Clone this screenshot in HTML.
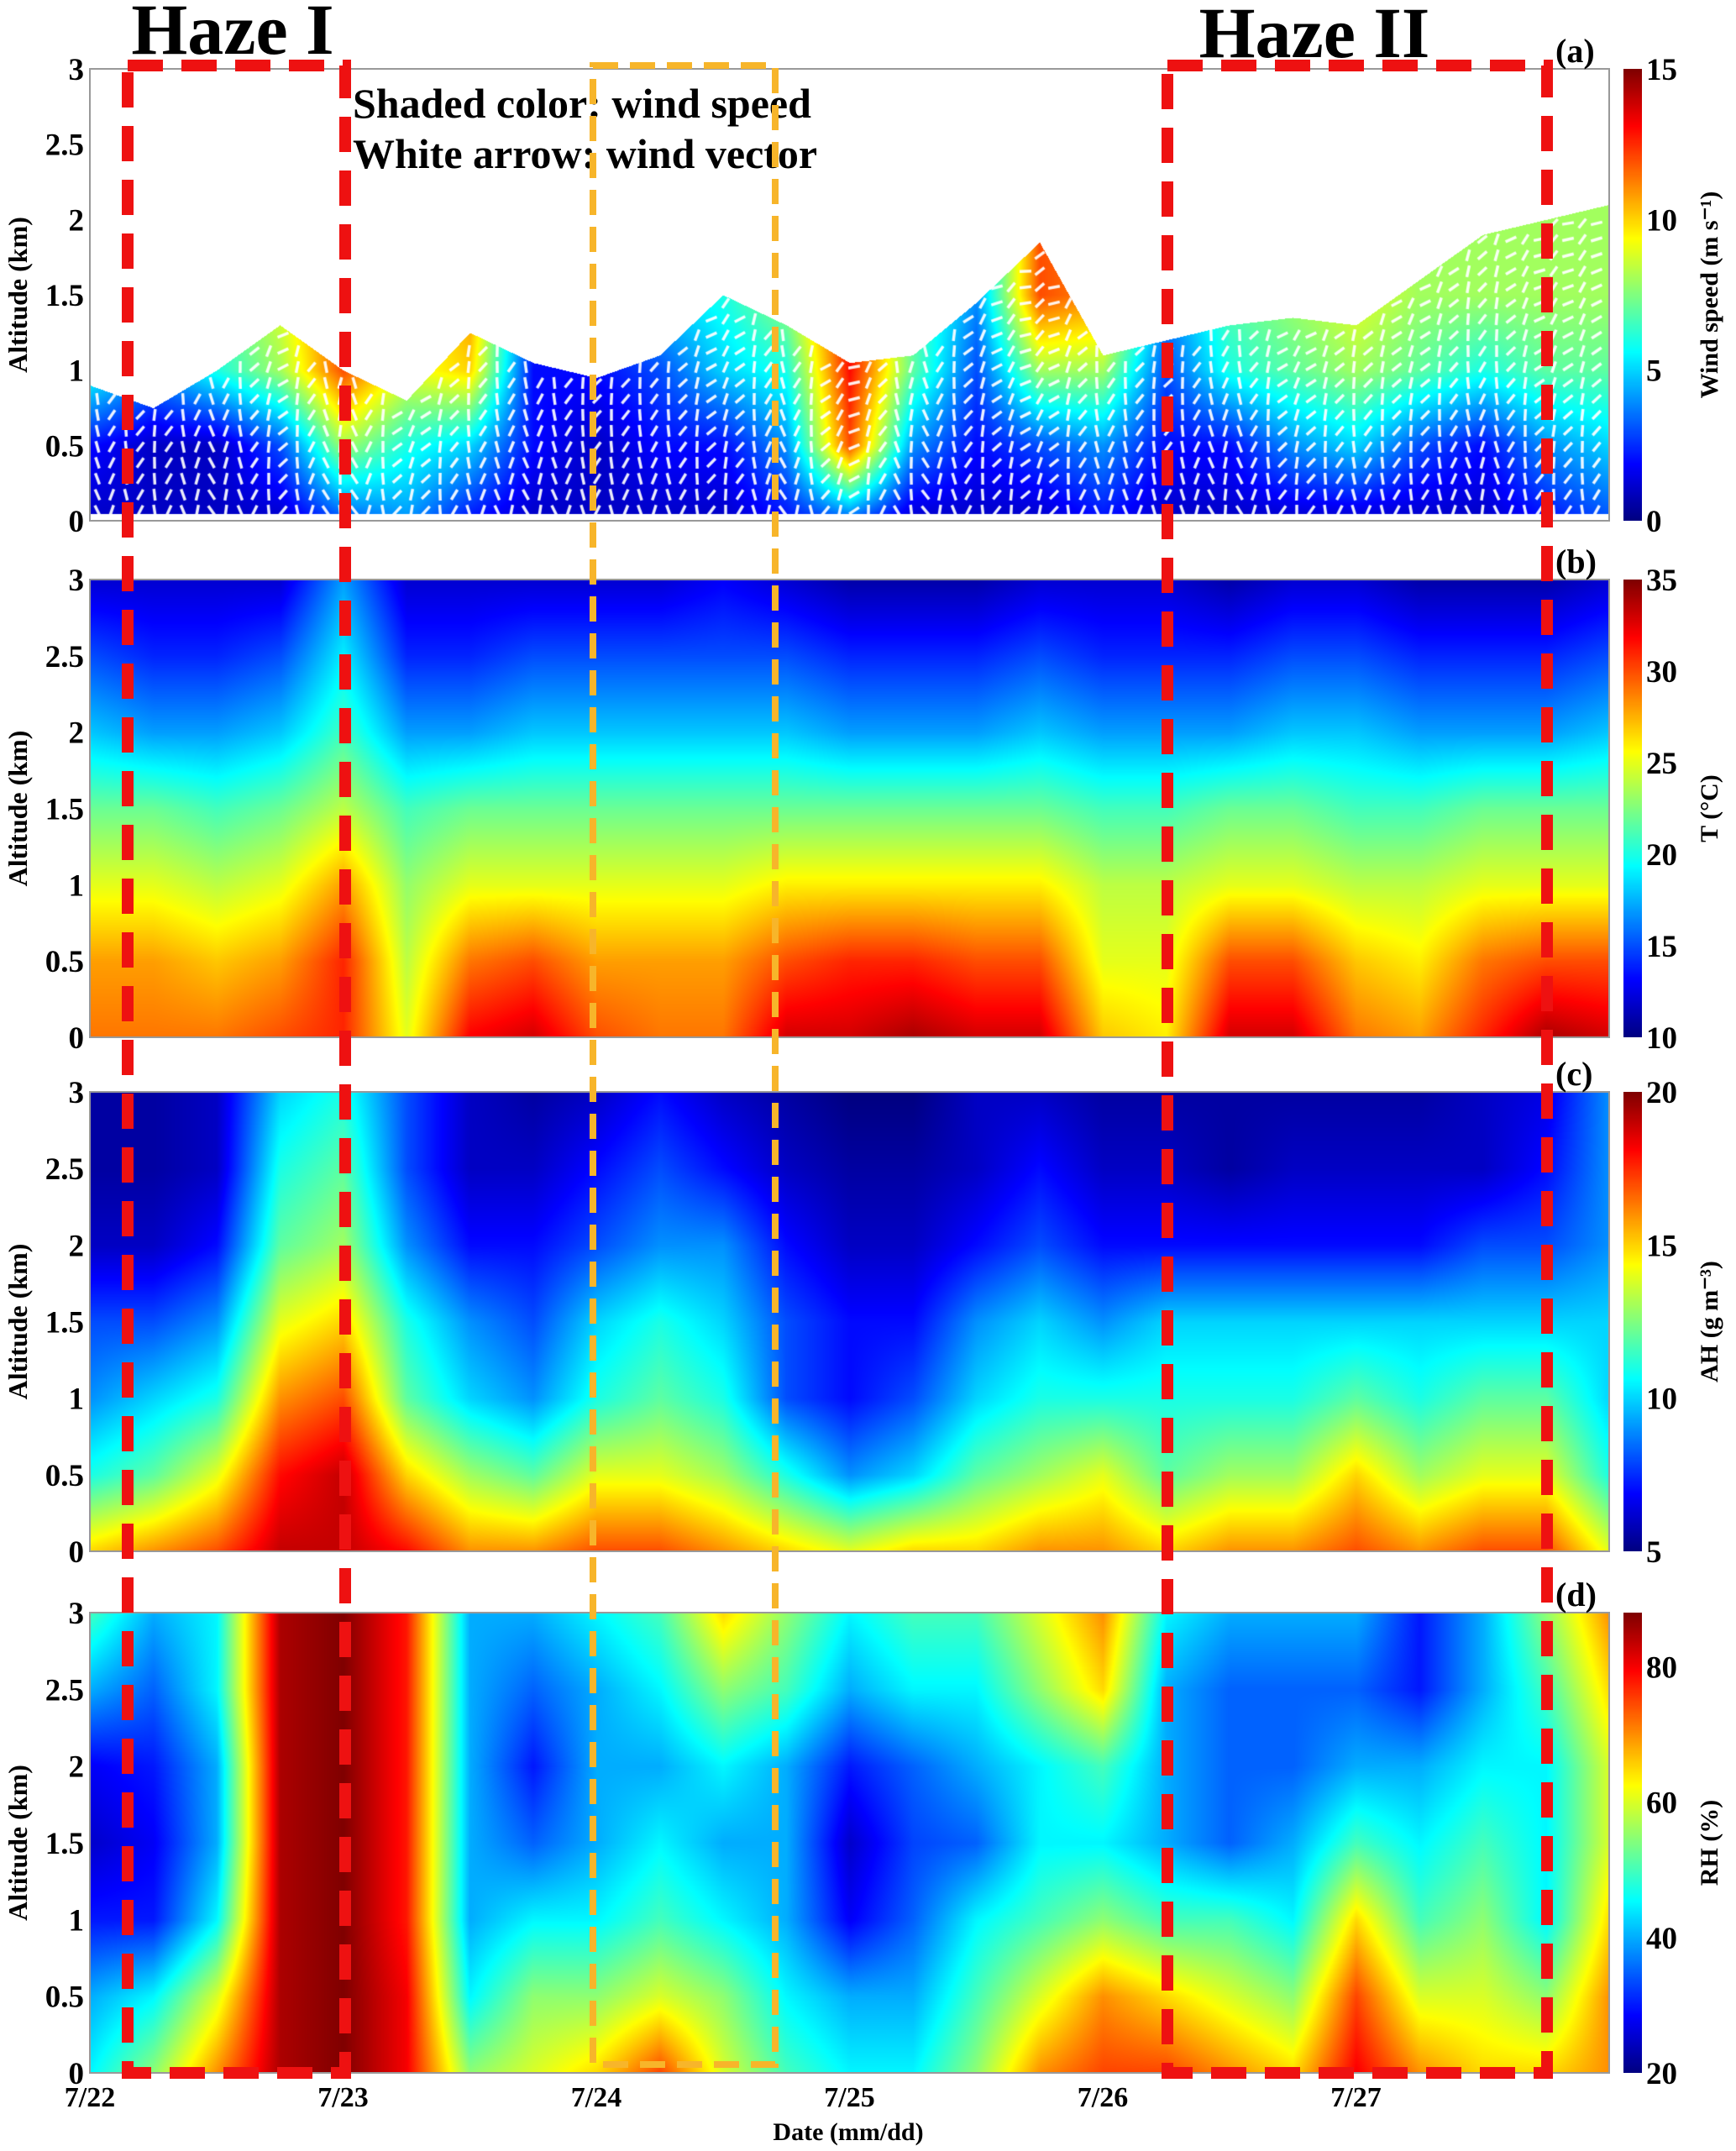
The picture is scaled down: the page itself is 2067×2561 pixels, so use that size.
<!DOCTYPE html>
<html><head><meta charset="utf-8"><style>
html,body{margin:0;padding:0;background:#fff;}
#root{position:relative;width:2067px;height:2561px;overflow:hidden;background:#fff;}
canvas{position:absolute;}
svg{position:absolute;left:0;top:0;}
text{font-family:"Liberation Serif",serif;font-weight:bold;fill:#000;}
</style></head><body>
<div id="root">
<canvas id="ca"></canvas>
<canvas id="cb"></canvas>
<canvas id="cc"></canvas>
<canvas id="cd"></canvas>
<canvas id="cba"></canvas>
<canvas id="cbb"></canvas>
<canvas id="cbc"></canvas>
<canvas id="cbd"></canvas>
<svg id="ov" width="2067" height="2561"></svg>
</div>
<script>
const times=[22,22.25,22.5,22.75,23,23.25,23.5,23.75,24,24.25,24.5,24.75,25,25.25,25.5,25.75,26,26.25,26.5,26.75,27,27.25,27.5,27.75,28];
const alts=[0,0.5,1,1.5,2,2.5,3];
const dateTicks=[22,23,24,25,26,27];
const dateLabels=["7/22","7/23","7/24","7/25","7/26","7/27"];
const altTicks=[0,0.5,1,1.5,2,2.5,3];
const windRows=[
[1,1,1,1,3,4,2,1,1,1,1,2,3,1,1,1,2,1,1,1,1,1,1,2,3],
[2,1,1,3,8,6,5,2,1,2,2,4,12,4,2,3,4,2,2,4,5,3,2,4,5],
[6,4,6,8,12,9,10,2,2,3,5,6,13,7,3,8,8,3,6,7,8,7,6,7,7],
[7,6,7,9,12,9,11,3,3,5,6,8,13,7,4,12,11,4,7,8,9,8,8,8,8],
[7,6,7,9,12,9,11,3,3,5,6,8,13,7,4,12,11,4,7,8,9,8,8,8,8],
[7,6,7,9,12,9,11,3,3,5,6,8,13,7,4,12,11,4,7,8,9,8,8,8,8],
[7,6,7,9,12,9,11,3,3,5,6,8,13,7,4,12,11,4,7,8,9,8,8,8,8]];
const windTop=[0.9,0.75,1.0,1.3,1.0,0.8,1.25,1.05,0.95,1.1,1.5,1.3,1.05,1.1,1.45,1.85,1.1,1.2,1.3,1.35,1.3,1.6,1.9,2.0,2.1];
const windDir=[80,100,70,110,60,120,90,75,95,85,110,70,130,60,100,120,80,95,70,110,90,100,75,105,95];
const tempRows=[
[29,29,29,30,31,25,32,33,30,29,29,33,33,34,33,33,27,26,33,33,29,28,31,34,33],
[28,28,27,28,31,24,29,30,28,28,28,30,31,31,30,30,25,25,30,30,27,26,29,30,30],
[25,25,24,25,28,23,25,25,25,25,25,26,26,26,26,26,24,24,25,25,24,24,25,25,25],
[22,22,21,22,24,21,22,22,22,22,22,22,22,22,22,22,21,21,22,22,21,21,22,22,22],
[18,17,17,18,21,17,17,18,18,18,18,18,17,17,17,18,17,17,17,18,18,17,17,17,18],
[15,14,14,15,19,14,14,15,15,15,15,15,14,14,14,15,14,14,14,15,15,14,14,14,15],
[12,12,12,12,17,12,12,12,12,12,13,12,11,11,11,12,12,12,11,12,12,11,11,11,12]];
const ahRows=[
[15,16,17,19,19,18,16,16,17,17,16,15,14,15,15,16,16,15,16,16,17,16,17,17,14],
[11,12,14,18,19,15,13,12,14,14,13,11,9,10,12,13,14,12,13,13,15,13,14,14,11],
[9,10,11,16,17,12,10,9,11,12,11,8,7,8,10,11,11,11,11,11,12,11,12,12,10],
[8,8,9,14,15,11,9,8,10,11,10,8,7,7,9,10,9,10,10,10,10,10,10,10,10],
[6,6,7,12,13,9,7,7,8,9,9,7,6,6,7,8,7,7,7,7,7,7,8,8,9],
[5.5,5.5,6,11,12,8,6,6,7,8,7,6,5.5,5.5,6,7,6,6,5.5,6,6,6,6,7,9],
[5.5,5.5,6,10,11,8,6,5.5,6,7,6,5.5,5,5,6,6,5.5,5.5,5.5,5.5,5.5,5.5,6,6.5,9]];
const rhRows=[
[45,55,70,85,88,80,55,60,65,75,60,50,45,45,55,70,75,75,70,65,80,70,65,65,70],
[40,45,60,85,88,80,45,55,55,60,55,45,40,40,50,60,70,65,60,55,75,60,60,55,70],
[30,30,45,85,88,78,40,45,45,50,45,40,28,35,45,50,55,50,50,45,65,50,55,45,65],
[25,28,40,85,88,78,40,35,40,45,40,40,25,33,35,45,45,40,35,40,50,45,50,45,60],
[28,30,40,85,88,78,40,30,40,40,45,40,30,35,40,45,50,40,35,35,40,40,45,45,60],
[40,35,45,85,88,78,40,35,40,45,55,50,40,45,45,55,65,40,35,35,35,30,40,50,65],
[50,40,45,85,88,78,40,40,45,50,65,55,45,50,50,60,70,45,40,40,40,30,40,55,70]];
const cbTicksA=[0,5,10,15], cbTicksB=[10,15,20,25,30,35], cbTicksC=[5,10,15,20], cbTicksD=[20,40,60,80];

const X0=107,X1=1916;
const panels=[
 {id:'ca',cb:'cba',rows:windRows,min:0,max:15,top:82,bot:620,ticks:cbTicksA,lab:'(a)',title:'Wind speed (m s\u207B\u00B9)',mask:true,nm:'a'},
 {id:'cb',cb:'cbb',rows:tempRows,min:10,max:35,top:690,bot:1235,ticks:cbTicksB,lab:'(b)',title:'T (\u00B0C)',nm:'b'},
 {id:'cc',cb:'cbc',rows:ahRows,min:5,max:20,top:1300,bot:1847,ticks:cbTicksC,lab:'(c)',title:'AH (g m\u207B\u00B3)',nm:'c'},
 {id:'cd',cb:'cbd',rows:rhRows,min:20,max:88,top:1920,bot:2468,ticks:cbTicksD,lab:'(d)',title:'RH (%)',nm:'d'}];
function xs(t){return X0+(t-22)/6*(X1-X0);}
function jet(v){v=Math.max(0,Math.min(1,v));const c=x=>Math.round(255*Math.max(0,Math.min(1,1.5-Math.abs(4*v-x))));return [c(3),c(2),c(1)];}
function interp(arr,t,a){
 let ti=(t-times[0])/(times[1]-times[0]);ti=Math.max(0,Math.min(times.length-1.0001,ti));
 let ai=(a-alts[0])/(alts[1]-alts[0]);ai=Math.max(0,Math.min(alts.length-1.0001,ai));
 const i=Math.floor(ti),j=Math.floor(ai),fx=ti-i,fy=ai-j;
 if(Array.isArray(arr[0])){
  return (arr[j][i]*(1-fx)+arr[j][i+1]*fx)*(1-fy)+(arr[j+1][i]*(1-fx)+arr[j+1][i+1]*fx)*fy;}
 return arr[i]*(1-fx)+arr[i+1]*fx;
}
const NS='http://www.w3.org/2000/svg';
const ov=document.getElementById('ov');
function el(tag,attrs,txt){const e=document.createElementNS(NS,tag);for(const k in attrs)e.setAttribute(k,attrs[k]);if(txt!==undefined)e.textContent=txt;ov.appendChild(e);return e;}

panels.forEach(p=>{
 const W=X1-X0,H=p.bot-p.top;
 const cv=document.getElementById(p.id);cv.width=W;cv.height=H;cv.style.left=X0+'px';cv.style.top=p.top+'px';
 const ctx=cv.getContext('2d');const img=ctx.createImageData(W,H);const d=img.data;
 for(let x=0;x<W;x++){
  const t=22+x/W*6; const topA=p.mask?interp(windTop,t,0):9;
  for(let y=0;y<H;y++){
   const a=3*(1-y/H);const k=(y*W+x)*4;
   if(p.mask&&(a>topA||a<0.05)){d[k]=d[k+1]=d[k+2]=255;d[k+3]=255;continue;}
   const v=interp(p.rows,t,a);const c=jet((v-p.min)/(p.max-p.min));
   d[k]=c[0];d[k+1]=c[1];d[k+2]=c[2];d[k+3]=255;}}
 ctx.putImageData(img,0,0);
 if(p.mask){
  ctx.strokeStyle='rgba(255,255,255,0.92)';ctx.lineWidth=3.5;
  for(let x=9;x<W;x+=17){const t=22+x/W*6;const topA=interp(windTop,t,0);
   for(let y=H-12;y>0;y-=19){const a=3*(1-y/H);if(a>topA-0.03)break;
    const ang=(interp(windDir,t,0)+a*25+((x/17|0)%2?20:-20))*Math.PI/180;
    ctx.beginPath();ctx.moveTo(x-7*Math.cos(ang),y-7*Math.sin(ang));ctx.lineTo(x+7*Math.cos(ang),y+7*Math.sin(ang));ctx.stroke();}}
 }
 const cb=document.getElementById(p.cb);cb.width=22;cb.height=H;cb.style.left='1933px';cb.style.top=p.top+'px';
 const cx=cb.getContext('2d');for(let y=0;y<H;y++){const c=jet(1-y/H);cx.fillStyle=`rgb(${c})`;cx.fillRect(0,y,22,1);}
 const fr=el('rect',{x:X0,y:p.top,width:W,height:H,fill:'none',stroke:'#999','stroke-width':2});
 
 altTicks.forEach(v=>{const y=p.bot-v/3*H;
  const t=el('text',{x:100,y:y+13,'font-size':37,'text-anchor':'end'},String(v));
  });
 const yl=el('text',{x:0,y:0,'font-size':32,'text-anchor':'middle',transform:`translate(32,${(p.top+p.bot)/2}) rotate(-90)`},'Altitude (km)');
 
 p.ticks.forEach(v=>{const y=p.bot-(v-p.min)/(p.max-p.min)*H;
  const t=el('text',{x:1960,y:y+13,'font-size':37},String(v));
  });
 const ct=el('text',{x:0,y:0,'font-size':30,'text-anchor':'middle',transform:`translate(2045,${(p.top+p.bot)/2}) rotate(-90)`},p.title);
 
 const pl=el('text',{x:1852,y:p.top-8,'font-size':40},p.lab);
 
});
dateTicks.forEach((v,i)=>{const t=el('text',{x:xs(v),y:2508,'font-size':34,'text-anchor':'middle'},dateLabels[i]);
 });
const xt=el('text',{x:1010,y:2548,'font-size':30,'text-anchor':'middle'},'Date (mm/dd)');

const a1=el('text',{x:420,y:140,'font-size':50},'Shaded color: wind speed');

const a2=el('text',{x:420,y:200,'font-size':50},'White arrow: wind vector');

const b1=el('rect',{x:152,y:78,width:259,height:2390,fill:'none',stroke:'#ee1111','stroke-width':14,'stroke-dasharray':'42 22'});

const b2=el('rect',{x:1390,y:78,width:452,height:2390,fill:'none',stroke:'#ee1111','stroke-width':14,'stroke-dasharray':'42 22'});

const b3=el('rect',{x:706,y:78,width:217,height:2380,fill:'none',stroke:'#f7b52a','stroke-width':8,'stroke-dasharray':'30 14'});

const h1=el('text',{x:277,y:64,'font-size':86,'text-anchor':'middle'},'Haze I');

const h2=el('text',{x:1565,y:68,'font-size':86,'text-anchor':'middle'},'Haze II');

</script>
</body></html>
